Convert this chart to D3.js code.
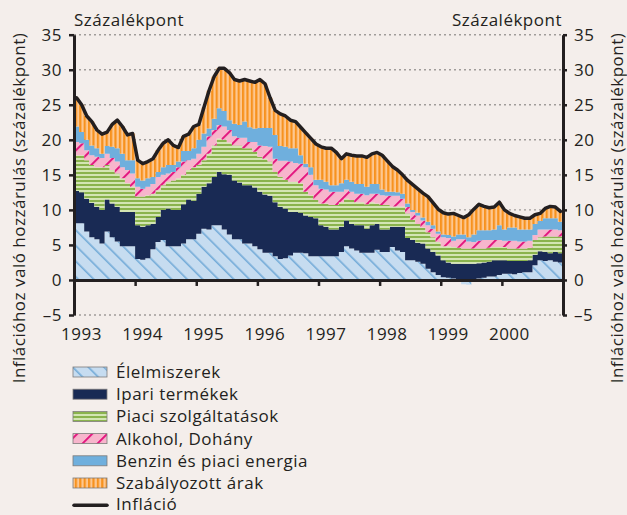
<!DOCTYPE html>
<html>
<head>
<meta charset="utf-8">
<script src="https://cdn.jsdelivr.net/npm/d3@7"></script>
<style>
  body { margin: 0; background: #f4eeeb; }
  text { font-family: "Open Sans", sans-serif; fill: #231f20; font-size: 17px; letter-spacing: 0.5px; }
</style>
</head>
<body>
<div id="chart"></div>
<script>

// monthly contributions, Jan 1993 - Dec 2000 (percentage points)
var elelmiszerek = [8.1, 8.1, 6.9, 6.1, 5.8, 5.2, 6.9, 6.1, 5.5, 4.8, 4.8, 4.8,
  3.0, 2.9, 3.1, 4.4, 5.4, 5.7, 4.8, 4.8, 4.8, 5.2, 5.8, 5.8,
  6.6, 7.3, 7.2, 7.8, 7.8, 7.2, 6.5, 5.8, 5.8, 5.2, 5.2, 4.8,
  4.4, 3.9, 3.9, 3.4, 3.0, 3.1, 3.5, 3.9, 3.9, 3.8, 3.4, 3.4,
  3.4, 3.4, 3.4, 3.4, 4.0, 4.8, 4.5, 4.2, 3.9, 3.9, 3.9, 4.3,
  4.0, 4.0, 4.7, 4.2, 4.0, 2.8, 2.8, 2.6, 2.3, 1.6, 1.1, 0.7,
  0.4, 0.3, 0.2, 0.1, -0.6, -0.7, 0.0, 0.2, 0.3, 0.5, 0.5, 0.7,
  0.9, 0.9, 0.8, 1.0, 1.1, 1.1, 2.1, 2.8, 2.7, 2.8, 2.6, 2.5];

var ipari = [4.6, 4.4, 4.7, 4.9, 4.6, 4.8, 4.6, 4.8, 4.9, 4.9, 4.9, 4.9,
  4.8, 4.7, 4.7, 3.6, 3.6, 4.3, 5.4, 5.2, 5.2, 5.6, 5.7, 5.5,
  5.7, 6.0, 6.6, 6.9, 7.6, 7.9, 8.5, 8.4, 8.1, 8.3, 8.3, 8.4,
  8.2, 8.3, 8.1, 7.7, 7.4, 7.1, 6.2, 5.8, 5.7, 5.4, 5.6, 5.4,
  4.4, 4.2, 3.8, 3.8, 3.6, 3.7, 3.5, 3.6, 3.9, 3.4, 3.9, 3.7,
  3.2, 3.2, 2.9, 3.4, 3.6, 3.2, 2.9, 2.7, 2.9, 2.9, 2.9, 2.8,
  2.4, 2.2, 2.1, 2.2, 2.3, 2.3, 2.3, 2.2, 2.2, 2.1, 2.3, 2.1,
  1.9, 1.8, 1.9, 1.7, 1.6, 1.7, 1.5, 1.3, 1.3, 1.0, 1.4, 1.3];

var piaci = [5.1, 5.3, 5.5, 5.4, 5.7, 6.1, 4.9, 4.8, 4.8, 4.8, 4.1, 3.6,
  4.1, 4.3, 4.3, 4.3, 3.8, 3.5, 3.8, 4.2, 4.5, 4.2, 4.2, 4.8,
  4.1, 3.8, 4.2, 4.5, 4.8, 4.9, 4.6, 5.0, 5.3, 5.3, 5.3, 5.1,
  5.0, 5.1, 4.9, 4.3, 4.3, 4.1, 4.3, 4.3, 4.2, 3.4, 3.1, 2.6,
  3.1, 3.3, 3.5, 3.5, 3.5, 3.1, 3.4, 3.3, 3.3, 3.5, 3.3, 2.9,
  3.5, 3.5, 2.9, 2.9, 2.9, 3.5, 2.9, 2.7, 2.3, 2.3, 2.1, 1.9,
  2.0, 2.3, 2.4, 2.3, 2.2, 2.2, 2.2, 2.1, 2.0, 2.0, 1.9, 1.9,
  1.9, 1.8, 1.8, 1.8, 1.8, 1.8, 2.1, 2.0, 2.2, 2.4, 2.2, 2.4];

var alkohol = [1.9, 1.7, 1.4, 1.4, 1.5, 1.3, 1.6, 1.7, 1.7, 1.6, 1.9, 1.9,
  1.4, 1.1, 1.2, 1.4, 1.9, 1.5, 1.2, 1.2, 1.6, 1.9, 1.4, 1.2,
  1.6, 1.9, 2.5, 2.2, 1.9, 1.9, 1.8, 1.3, 1.1, 1.5, 0.9, 1.4,
  1.6, 1.8, 2.1, 1.9, 2.3, 2.7, 2.9, 2.7, 2.8, 3.5, 2.9, 2.1,
  2.1, 2.0, 1.9, 1.9, 1.5, 1.3, 1.2, 1.2, 1.2, 1.3, 1.2, 1.4,
  1.4, 1.3, 1.5, 1.5, 1.1, 0.9, 1.1, 1.2, 1.0, 1.0, 1.2, 1.2,
  1.3, 1.2, 0.9, 1.2, 1.3, 1.0, 0.9, 1.1, 1.2, 1.1, 1.0, 1.0,
  0.9, 1.1, 1.1, 1.0, 1.0, 1.0, 0.7, 1.1, 1.0, 1.0, 1.0, 0.9];

var benzin = [2.2, 1.6, 1.5, 1.4, 1.2, 0.6, 1.1, 1.6, 1.9, 1.9, 1.4, 1.9,
  1.2, 1.2, 1.2, 1.0, 0.7, 1.1, 1.2, 1.0, 0.8, 1.5, 1.3, 1.5,
  2.0, 1.9, 1.1, 1.6, 2.4, 2.2, 1.4, 1.8, 1.8, 2.3, 2.1, 1.9,
  2.5, 2.6, 2.7, 3.4, 2.1, 2.0, 1.9, 2.1, 1.2, 0.5, 1.1, 0.8,
  1.3, 1.1, 0.9, 0.9, 1.2, 1.4, 1.4, 1.4, 1.4, 1.2, 1.4, 1.4,
  0.8, 0.6, 0.6, 0.5, 0.7, 0.5, 0.3, 0.4, 0.4, 0.5, 0.5, 0.3,
  0.4, 0.4, 0.6, 0.7, 0.7, 0.6, 1.1, 1.5, 1.4, 1.4, 1.5, 2.1,
  1.6, 1.9, 1.9, 1.7, 1.7, 1.6, 1.6, 1.2, 1.6, 1.6, 1.6, 1.2];

var szabalyozott = [4.1, 3.9, 3.4, 3.4, 2.6, 2.8, 2.0, 3.2, 4.0, 3.9, 3.6, 3.8,
  2.6, 2.4, 2.4, 2.6, 3.1, 3.4, 3.6, 2.8, 2.0, 2.1, 2.4, 3.1,
  2.2, 3.7, 5.4, 6.0, 5.7, 6.1, 6.8, 6.3, 6.3, 6.0, 6.6, 6.6,
  6.9, 6.3, 4.3, 3.5, 4.6, 4.4, 4.0, 3.8, 4.0, 4.4, 4.1, 5.1,
  4.7, 4.8, 5.3, 4.7, 3.5, 3.7, 3.8, 4.0, 4.0, 4.2, 4.3, 4.5,
  4.9, 4.4, 3.6, 3.2, 2.7, 3.3, 3.6, 3.4, 3.5, 3.6, 3.2, 3.2,
  3.1, 3.0, 3.3, 2.7, 2.4, 3.2, 3.6, 3.7, 3.4, 3.2, 3.2, 3.3,
  2.8, 2.0, 1.7, 1.8, 1.6, 1.6, 1.3, 1.1, 1.4, 1.7, 1.6, 1.5];

var inflacio = [26.0, 25.0, 23.4, 22.6, 21.4, 20.8, 21.1, 22.2, 22.8, 21.9, 20.7, 20.9,
  17.1, 16.6, 16.9, 17.3, 18.5, 19.5, 20.0, 19.2, 18.9, 20.5, 20.8, 21.9,
  22.2, 24.6, 27.0, 29.0, 30.2, 30.2, 29.6, 28.6, 28.4, 28.6, 28.4, 28.2,
  28.6, 28.0, 26.0, 24.2, 23.7, 23.4, 22.8, 22.6, 21.8, 21.0, 20.2, 19.4,
  19.0, 18.8, 18.8, 18.2, 17.3, 18.0, 17.8, 17.7, 17.7, 17.5, 18.0, 18.2,
  17.8, 17.0, 16.2, 15.7, 15.0, 14.2, 13.6, 13.0, 12.4, 11.9, 11.0, 10.1,
  9.6, 9.4, 9.5, 9.2, 8.9, 9.3, 10.1, 10.8, 10.5, 10.3, 10.4, 11.1,
  10.0, 9.5, 9.2, 9.0, 8.8, 8.8, 9.3, 9.5, 10.2, 10.5, 10.4, 9.8];

var yearLabels = ["1993", "1994", "1995", "1996", "1997", "1998", "1999", "2000"];
var yTicks = [-5, 0, 5, 10, 15, 20, 25, 30, 35];
var seriesKeys = ["elelmiszerek", "ipari", "piaci", "alkohol", "benzin", "szabalyozott"];
var seriesNames = ["Élelmiszerek", "Ipari termékek", "Piaci szolgáltatások",
  "Alkohol, Dohány", "Benzin és piaci energia", "Szabályozott árak"];
var lineName = "Infláció";
var unitLabel = "Százalékpont";
var axisTitle = "Inflációhoz való hozzárulás (százalékpont)";

var svgWidth = 627;
var svgHeight = 515;

var svg = d3.select("#chart")
  .append("svg")
  .attr("width", svgWidth)
  .attr("height", svgHeight);

svg.append("rect")
  .attr("width", svgWidth)
  .attr("height", svgHeight)
  .attr("fill", "#f4eeeb");

// fills
var defs = svg.append("defs");

var pElel = defs.append("pattern")
  .attr("id", "p-elel")
  .attr("patternUnits", "userSpaceOnUse")
  .attr("width", 11).attr("height", 11)
  .attr("patternTransform", "rotate(-45)");
pElel.append("rect").attr("width", 11).attr("height", 11).attr("fill", "#c6dcf0");
pElel.append("rect").attr("width", 1.6).attr("height", 11).attr("fill", "#73abd8");

var pPiaci = defs.append("pattern")
  .attr("id", "p-piaci")
  .attr("patternUnits", "userSpaceOnUse")
  .attr("width", 8).attr("height", 4);
pPiaci.append("rect").attr("width", 8).attr("height", 4).attr("fill", "#8ab34d");
pPiaci.append("rect").attr("y", 2).attr("width", 8).attr("height", 2).attr("fill", "#d3e5b3");

var pAlk = defs.append("pattern")
  .attr("id", "p-alk")
  .attr("patternUnits", "userSpaceOnUse")
  .attr("width", 10.6).attr("height", 10.6)
  .attr("patternTransform", "rotate(45)");
pAlk.append("rect").attr("width", 10.6).attr("height", 10.6).attr("fill", "#f7b5cc");
pAlk.append("rect").attr("width", 2).attr("height", 10.6).attr("fill", "#e3167f");

var pSzab = defs.append("pattern")
  .attr("id", "p-szab")
  .attr("patternUnits", "userSpaceOnUse")
  .attr("width", 4.4).attr("height", 8);
pSzab.append("rect").attr("width", 4.4).attr("height", 8).attr("fill", "#fdc790");
pSzab.append("rect").attr("width", 2.2).attr("height", 8).attr("fill", "#f7921e");

var fills = ["url(#p-elel)", "#192a54", "url(#p-piaci)", "url(#p-alk)", "#6fafdd", "url(#p-szab)"];

// scales
var x = d3.scaleLinear().domain([0, 96]).range([74, 563]);
var y = d3.scaleLinear().domain([-5, 35]).range([315, 34.7]);

// gridlines
svg.append("g")
  .selectAll("line")
  .data(yTicks.filter(d => d !== 0))
  .enter()
  .append("line")
  .attr("x1", x(0))
  .attr("x2", x(96))
  .attr("y1", d => y(d))
  .attr("y2", d => y(d))
  .attr("stroke", "#a09c9a")
  .attr("stroke-width", 1.4)
  .attr("stroke-dasharray", "2,3");

// stacked areas
var rows = inflacio.map(function(v, i) {
  return {
    m: i,
    elelmiszerek: elelmiszerek[i],
    ipari: ipari[i],
    piaci: piaci[i],
    alkohol: alkohol[i],
    benzin: benzin[i],
    szabalyozott: szabalyozott[i]
  };
});
// closing edge of the last month
rows.push(Object.assign({}, rows[rows.length - 1], { m: 96 }));

var stacked = d3.stack()
  .keys(seriesKeys)
  .offset(d3.stackOffsetDiverging)(rows);

var area = d3.area()
  .x(d => x(d.data.m))
  .y0(d => y(d[0]))
  .y1(d => y(d[1]))
  .curve(d3.curveStepAfter);

svg.append("g")
  .selectAll("path")
  .data(stacked)
  .enter()
  .append("path")
  .attr("d", area)
  .attr("fill", (d, i) => fills[i]);

// axes
var leftAxis = d3.axisLeft(y)
  .tickValues(yTicks)
  .tickSize(5)
  .tickSizeOuter(0)
  .tickPadding(7)
  .tickFormat(d => d < 0 ? "\u2013" + Math.abs(d) : d);

var rightAxis = d3.axisRight(y)
  .tickValues(yTicks)
  .tickSize(4)
  .tickSizeOuter(0)
  .tickPadding(7)
  .tickFormat(d => d < 0 ? "\u2013" + Math.abs(d) : d);

var bottomAxis = d3.axisBottom(x)
  .tickValues(d3.range(0, 97, 12))
  .tickSize(6)
  .tickSizeOuter(0)
  .tickFormat("");

var xAxis = svg.append("g")
  .attr("transform", `translate(0, ${y(0)})`)
  .call(bottomAxis);

var yAxisL = svg.append("g")
  .attr("transform", `translate(${x(0)}, 0)`)
  .call(leftAxis);

var yAxisR = svg.append("g")
  .attr("transform", `translate(${x(96)}, 0)`)
  .call(rightAxis);

[xAxis, yAxisL, yAxisR].forEach(function(g) {
  g.select(".domain").attr("stroke", "#231f20").attr("stroke-width", 3);
  g.selectAll(".tick line").attr("stroke", "#231f20").attr("stroke-width", 2.5);
  g.selectAll("text")
    .attr("fill", "#231f20")
    .style("font-family", "'Open Sans', sans-serif")
    .style("font-size", "17px");
});

// year labels
svg.append("g")
  .selectAll("text")
  .data(yearLabels)
  .enter()
  .append("text")
  .attr("x", (d, i) => x(i * 12) + 7.5)
  .attr("y", 340)
  .attr("text-anchor", "middle")
  .text(d => d);

// inflation line
var line = d3.line()
  .x((d, i) => x(i + 0.5))
  .y(d => y(d));

svg.append("path")
  .datum(inflacio)
  .attr("d", line)
  .attr("fill", "none")
  .attr("stroke", "#231f20")
  .attr("stroke-width", 3.5)
  .attr("stroke-linejoin", "round")
  .attr("stroke-linecap", "round");

// unit labels
svg.append("text")
  .attr("x", 74)
  .attr("y", 26)
  .text(unitLabel);

svg.append("text")
  .attr("x", 562)
  .attr("y", 26)
  .attr("text-anchor", "end")
  .text(unitLabel);

svg.append("text")
  .attr("transform", "translate(25, 208) rotate(-90)")
  .attr("text-anchor", "middle")
  .text(axisTitle);

svg.append("text")
  .attr("transform", "translate(623, 208) rotate(-90)")
  .attr("text-anchor", "middle")
  .text(axisTitle);

// legend
var legend = svg.append("g");
var rowGap = 22.2;

seriesNames.forEach(function(name, i) {
  var cy = 372 + i * rowGap;
  legend.append("rect")
    .attr("x", 73)
    .attr("y", cy - 5)
    .attr("width", 34)
    .attr("height", 10)
    .attr("fill", fills[i])
    .attr("stroke", "#7d7b7a")
    .attr("stroke-width", 0.8);
  legend.append("text")
    .attr("x", 116)
    .attr("y", cy + 6)
    .text(name);
});

var lineY = 372 + 6 * rowGap;
legend.append("line")
  .attr("x1", 74)
  .attr("x2", 107)
  .attr("y1", lineY)
  .attr("y2", lineY)
  .attr("stroke", "#231f20")
  .attr("stroke-width", 3.5)
  .attr("stroke-linecap", "round");
legend.append("text")
  .attr("x", 116)
  .attr("y", lineY + 5)
  .text(lineName);

</script>
</body>
</html>
